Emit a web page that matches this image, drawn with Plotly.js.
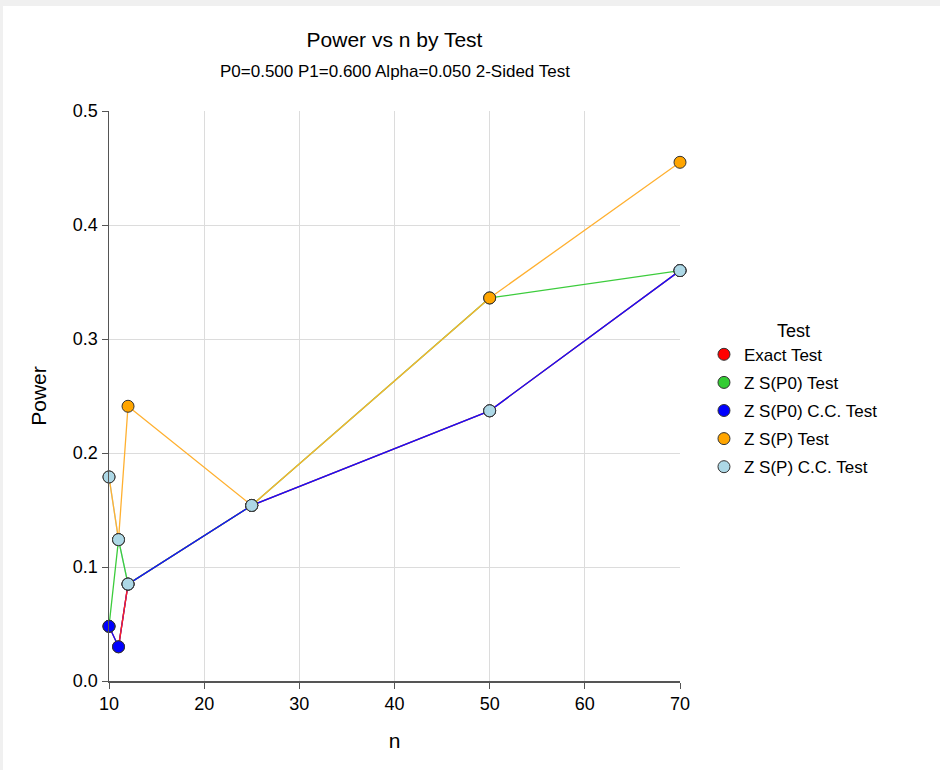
<!DOCTYPE html>
<html>
<head>
<meta charset="utf-8">
<script src="https://cdn.plot.ly/plotly-3.0.1.min.js"></script>
<style>
html, body { margin: 0; padding: 0; background: #f0f0f0; width: 940px; height: 770px; overflow: hidden; }
#chart { position: absolute; left: 3px; top: 6px; width: 937px; height: 764px; background: #ffffff; }
</style>
</head>
<body>
<div id="chart"></div>
<script>
// Data
const nValues = [10, 11, 12, 25, 50, 70];
const seriesNames = ["Exact Test", "Z S(P0) Test", "Z S(P0) C.C. Test", "Z S(P) Test", "Z S(P) C.C. Test"];
const exactTest   = [0.048, 0.030, 0.085, 0.154, 0.237, 0.360];
const zP0Test     = [0.048, 0.124, 0.085, 0.154, 0.336, 0.360];
const zP0CCTest   = [0.048, 0.030, 0.085, 0.154, 0.237, 0.360];
const zPTest      = [0.179, 0.124, 0.241, 0.154, 0.336, 0.455];
const zPCCTest    = [0.179, 0.124, 0.085, 0.154, 0.237, 0.360];
const seriesColors = ["#ff0000", "#33cc33", "#0000ff", "#ffa500", "#add8e6"];
const lineColors   = ["#ff2020", "#3ccc3c", "#1010ff", "#ffb030", "#add8e6"];

const allSeries = [exactTest, zP0Test, zP0CCTest, zPTest, zPCCTest];

const traces = [];
// line layer order (bottom to top): light blue, red, green, blue, orange
[4, 0, 1, 2, 3].forEach(i => {
  traces.push({
    x: nValues, y: allSeries[i], type: 'scatter', mode: 'lines',
    line: { color: lineColors[i], width: 1.3 },
    showlegend: false, hoverinfo: 'skip'
  });
});
// the Exact Test segment between n=11 and n=12 sits on top in the reference
traces.push({
  x: nValues.slice(1, 3), y: exactTest.slice(1, 3), type: 'scatter', mode: 'lines',
  line: { color: lineColors[0], width: 1.3 }, showlegend: false, hoverinfo: 'skip'
});
// marker layer order: red, green, blue, orange, light blue
[0, 1, 2, 3, 4].forEach(i => {
  traces.push({
    x: nValues, y: allSeries[i], type: 'scatter', mode: 'markers',
    name: seriesNames[i], legendgroup: 'g' + i, cliponaxis: false,
    marker: { color: seriesColors[i], size: 12, line: { color: '#333333', width: 1 } }
  });
});

const font = "'Liberation Sans', Arial, sans-serif";
const layout = {
  width: 937, height: 764,
  paper_bgcolor: '#ffffff', plot_bgcolor: '#ffffff',
  margin: { l: 106, r: 260, t: 105, b: 89 },
  font: { family: font, color: '#000000' },
  title: { text: 'Power vs n by Test', font: { family: font, size: 21, color: '#000' }, x: 0.5, xref: 'paper', xanchor: 'center', y: 1 - 34/764, yref: 'container', yanchor: 'middle' },
  annotations: [{
    text: 'P0=0.500 P1=0.600 Alpha=0.050 2-Sided Test', showarrow: false,
    xref: 'paper', x: 0.5, xanchor: 'center',
    yref: 'paper', y: 1 + (105 - 65) / 570, yanchor: 'middle',
    font: { family: font, size: 17, color: '#000' }
  }],
  xaxis: {
    range: [10, 70], tickvals: [10, 20, 30, 40, 50, 60, 70],
    showgrid: true, gridcolor: '#dcdcdc', gridwidth: 1,
    showline: true, linecolor: '#555555', linewidth: 1.5,
    ticks: 'outside', ticklen: 6, tickcolor: '#555555',
    zeroline: false, tickfont: { family: font, size: 18 },
    title: { text: 'n', font: { family: font, size: 21 }, standoff: 20 }
  },
  yaxis: {
    range: [0, 0.5], tickvals: [0, 0.1, 0.2, 0.3, 0.4, 0.5], tickformat: '.1f',
    showgrid: true, gridcolor: '#dcdcdc', gridwidth: 1,
    showline: true, linecolor: '#555555', linewidth: 1.5,
    ticks: 'outside', ticklen: 6, tickcolor: '#555555',
    zeroline: false, tickfont: { family: font, size: 18 },
    title: { text: 'Power', font: { family: font, size: 21 }, standoff: 20 }
  },
  legend: {
    x: 1.042, xanchor: 'left', y: 0.495, yanchor: 'middle',
    font: { family: font, size: 17 },
    title: { text: 'Test', side: 'top center', font: { family: font, size: 18 } },
    tracegroupgap: 3, bgcolor: 'rgba(0,0,0,0)'
  },
  showlegend: true
};

Plotly.newPlot('chart', traces, layout, { staticPlot: true, displayModeBar: false });
</script>
</body>
</html>
